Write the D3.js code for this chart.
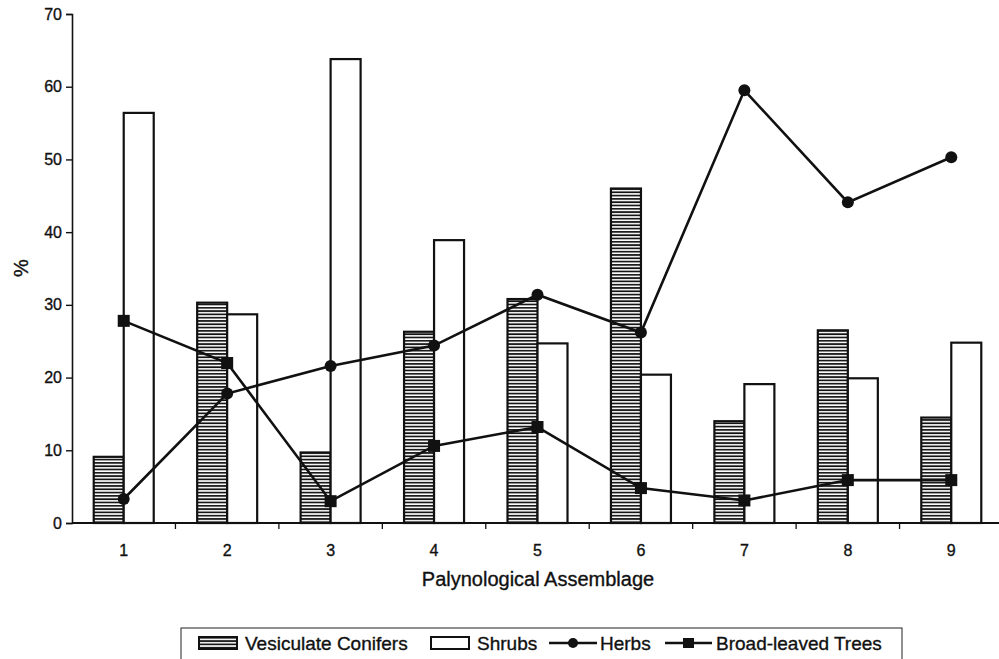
<!DOCTYPE html>
<html>
<head>
<meta charset="utf-8">
<script src="https://cdn.jsdelivr.net/npm/d3@7"></script>
<style>
  body { margin: 0; background: #fff; }
  text { font-family: "Liberation Sans", Arial, sans-serif; fill: #111; stroke: #111; stroke-width: 0.35; }
</style>
</head>
<body>
<svg id="chart" width="999" height="659"></svg>
<script>
// values
const assemblages = ["1", "2", "3", "4", "5", "6", "7", "8", "9"];
const conifers = [9.1, 30.3, 9.7, 26.3, 30.8, 46.0, 14.0, 26.5, 14.5];
const shrubs = [56.4, 28.7, 63.8, 38.9, 24.7, 20.4, 19.1, 19.9, 24.8];
const herbs = [3.3, 17.8, 21.6, 24.4, 31.4, 26.2, 59.5, 44.1, 50.3];
const broadLeaved = [27.8, 22.0, 3.0, 10.6, 13.2, 4.8, 3.1, 5.9, 5.9];
const yTicks = [0, 10, 20, 30, 40, 50, 60, 70];

const svg = d3.select("#chart");
const plotL = 72, plotR = 1003, plotT = 14, plotB = 523;

const x = d3.scaleBand().domain(assemblages).range([plotL, plotR]);
const y = d3.scaleLinear().domain([0, 70]).range([plotB, plotT]);
const barW = 30;

// horizontal hatch for conifers
const defs = svg.append("defs");
defs.append("pattern")
  .attr("id", "hatch")
  .attr("patternUnits", "userSpaceOnUse")
  .attr("width", 6).attr("height", 3.3)
  .append("line")
  .attr("x1", 0).attr("x2", 6).attr("y1", 0.9).attr("y2", 0.9)
  .attr("stroke", "#111").attr("stroke-width", 1.7);

// bars
svg.append("g").selectAll("rect")
  .data(conifers)
  .enter().append("rect")
  .attr("x", (d, i) => x(assemblages[i]) + x.bandwidth() / 2 - barW)
  .attr("y", d => y(d))
  .attr("width", barW)
  .attr("height", d => plotB - y(d))
  .attr("fill", "url(#hatch)")
  .attr("stroke", "#111").attr("stroke-width", 2.2);

svg.append("g").selectAll("rect")
  .data(shrubs)
  .enter().append("rect")
  .attr("x", (d, i) => x(assemblages[i]) + x.bandwidth() / 2)
  .attr("y", d => y(d))
  .attr("width", barW)
  .attr("height", d => plotB - y(d))
  .attr("fill", "#fff")
  .attr("stroke", "#111").attr("stroke-width", 2.2);

// axes
const yAxis = svg.append("g")
  .attr("transform", `translate(${plotL},0)`)
  .call(d3.axisLeft(y).tickValues(yTicks).tickSize(6).tickPadding(4));
yAxis.select(".domain").attr("stroke", "#111").attr("stroke-width", 1.6);
yAxis.selectAll("line").attr("stroke", "#111").attr("stroke-width", 1.4);
yAxis.selectAll("text").attr("font-size", 16).attr("fill", "#111")
  .attr("font-family", "Liberation Sans, Arial, sans-serif");

svg.append("line")
  .attr("x1", plotL).attr("x2", 999)
  .attr("y1", plotB).attr("y2", plotB)
  .attr("stroke", "#111").attr("stroke-width", 2);

// category separators below axis
svg.append("g").selectAll("line")
  .data(assemblages.slice(1))
  .enter().append("line")
  .attr("x1", d => x(d)).attr("x2", d => x(d))
  .attr("y1", plotB).attr("y2", plotB + 6)
  .attr("stroke", "#111").attr("stroke-width", 1.3);

svg.append("g").selectAll("text")
  .data(assemblages)
  .enter().append("text")
  .attr("x", d => x(d) + x.bandwidth() / 2)
  .attr("y", plotB + 33)
  .attr("text-anchor", "middle")
  .attr("font-size", 16)
  .text(d => d);

// lines
const cx = i => x(assemblages[i]) + x.bandwidth() / 2;
const line = d3.line().x((d, i) => cx(i)).y(d => y(d));

svg.append("path").datum(broadLeaved)
  .attr("d", line).attr("fill", "none")
  .attr("stroke", "#111").attr("stroke-width", 2.6);
svg.append("g").selectAll("rect")
  .data(broadLeaved)
  .enter().append("rect")
  .attr("x", (d, i) => cx(i) - 6).attr("y", d => y(d) - 6)
  .attr("width", 12).attr("height", 12)
  .attr("fill", "#111");

svg.append("path").datum(herbs)
  .attr("d", line).attr("fill", "none")
  .attr("stroke", "#111").attr("stroke-width", 2.6);
svg.append("g").selectAll("circle")
  .data(herbs)
  .enter().append("circle")
  .attr("cx", (d, i) => cx(i)).attr("cy", d => y(d))
  .attr("r", 6).attr("fill", "#111");

// axis titles
svg.append("text")
  .attr("transform", "translate(28,268) rotate(-90)")
  .attr("text-anchor", "middle")
  .attr("font-size", 20)
  .text("%");

svg.append("text")
  .attr("x", 538).attr("y", 586)
  .attr("text-anchor", "middle")
  .attr("font-size", 20)
  .text("Palynological Assemblage");

// legend
const lg = svg.append("g");
lg.append("rect")
  .attr("x", 181).attr("y", 628).attr("width", 721).attr("height", 40)
  .attr("fill", "#fff").attr("stroke", "#222").attr("stroke-width", 1);

lg.append("rect").attr("x", 199).attr("y", 637).attr("width", 38).attr("height", 12)
  .attr("fill", "url(#hatch)").attr("stroke", "#111").attr("stroke-width", 2);
lg.append("text").attr("x", 245).attr("y", 650).attr("font-size", 19).text("Vesiculate Conifers");

lg.append("rect").attr("x", 431).attr("y", 637).attr("width", 38).attr("height", 12)
  .attr("fill", "#fff").attr("stroke", "#111").attr("stroke-width", 2);
lg.append("text").attr("x", 477).attr("y", 650).attr("font-size", 19).text("Shrubs");

lg.append("line").attr("x1", 549).attr("x2", 597).attr("y1", 643).attr("y2", 643)
  .attr("stroke", "#111").attr("stroke-width", 2.5);
lg.append("circle").attr("cx", 573).attr("cy", 643).attr("r", 5).attr("fill", "#111");
lg.append("text").attr("x", 600).attr("y", 650).attr("font-size", 19).text("Herbs");

lg.append("line").attr("x1", 665).attr("x2", 712).attr("y1", 643).attr("y2", 643)
  .attr("stroke", "#111").attr("stroke-width", 2.5);
lg.append("rect").attr("x", 683).attr("y", 638).attr("width", 11).attr("height", 10).attr("fill", "#111");
lg.append("text").attr("x", 716).attr("y", 650).attr("font-size", 19).text("Broad-leaved Trees");
</script>
</body>
</html>
